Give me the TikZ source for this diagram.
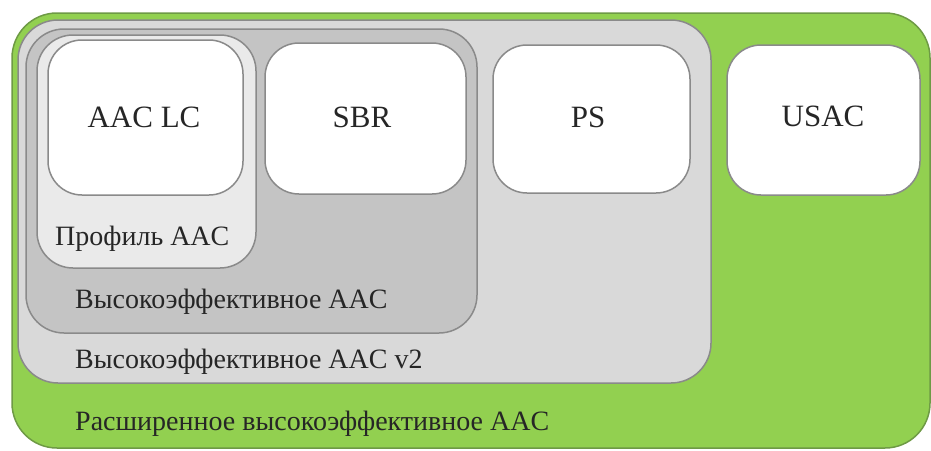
\documentclass[tikz,border=0pt]{standalone}
\usepackage{fontspec}
\setmainfont{Liberation Serif}
\usepackage{xcolor}
\usepackage{tikz}

\definecolor{extgreen}{HTML}{92D050}
\definecolor{extedge}{HTML}{6E9A45}
\definecolor{vtwogray}{HTML}{D9D9D9}
\definecolor{hegray}{HTML}{C4C4C4}
\definecolor{proflight}{HTML}{EAEAEA}
\definecolor{boxedge}{HTML}{8A8A8A}

\tikzset{
    layer/.style={draw=boxedge, line width=1.5pt, rounded corners=#1, inner sep=0pt},
    tool/.style={layer=34pt, fill=white, font=\fontsize{31}{36}\selectfont},
    tag/.style={anchor=base west, inner sep=0pt, font=\fontsize{28}{33}\selectfont, text=black!85},
    toolname/.style={anchor=base, inner sep=0pt, font=\fontsize{31}{36}\selectfont, text=black!85}
}

\begin{document}
\begin{tikzpicture}[x=1pt, y=-1pt]
        \useasboundingbox (0,0) rectangle (931,450);
        % nested profiles
        \node[layer=45pt, fill=extgreen, draw=extedge, minimum width=918pt, minimum height=435pt] (ext) at (471,230.5) {};
        \node[layer=40pt, fill=vtwogray, minimum width=693pt, minimum height=363pt] (hetwo) at (364.5,201.5) {};
        \node[layer=38pt, fill=hegray, minimum width=451pt, minimum height=304pt] (he) at (251.5,181) {};
        \node[layer=36pt, fill=proflight, minimum width=219pt, minimum height=233pt] (prof) at (146.5,151.5) {};
        % tools
        \node[tool, minimum width=195pt, minimum height=155pt] (aaclc) at (145.5,117.5) {};
        \node[tool, minimum width=201pt, minimum height=151pt] (sbr) at (365.5,118.5) {};
        \node[tool, minimum width=197pt, minimum height=148pt] (ps) at (591.5,119) {};
        \node[tool, minimum width=193pt, minimum height=150pt] (usac) at (823.5,120) {};
        \node[toolname] (aaclct) at (144,127) {AAC LC};
        \node[toolname] (sbrt) at (362,127) {SBR};
        \node[toolname] (pst) at (588,127) {PS};
        \node[toolname] (usact) at (823,126) {USAC};
        % profile names
        \node[tag] (proft) at (55,245) {Профиль AAC};
        \node[tag] (het) at (75,308) {Высокоэффективное AAC};
        \node[tag] (hetwot) at (75,368) {Высокоэффективное AAC v2};
        \node[tag] (extt) at (75,430) {Расширенное высокоэффективное AAC};
\end{tikzpicture}
\end{document}
